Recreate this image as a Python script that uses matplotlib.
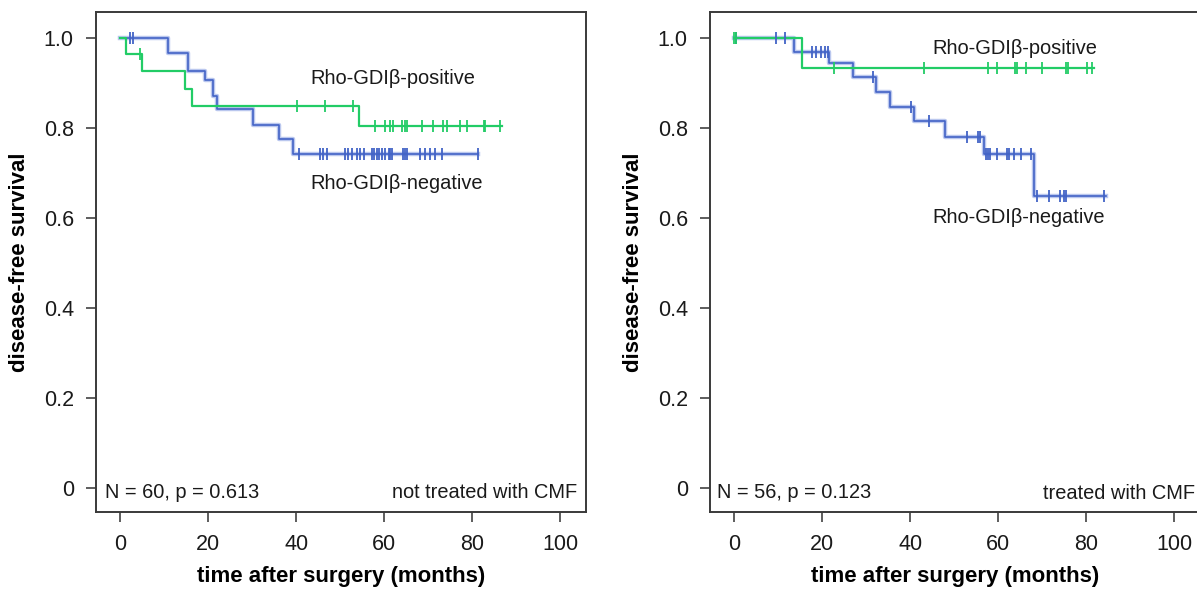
import numpy as np
import matplotlib
matplotlib.use("Agg")
import matplotlib.pyplot as plt

plt.rcParams["font.family"] = ["Liberation Sans", "DejaVu Sans"]

# Kaplan-Meier step data (time in months, survival)
left_pos_times = [0, 1.4, 5.0, 14.8, 16.3, 54.2]
left_pos_surv = [1.0, 0.964, 0.927, 0.888, 0.849, 0.804]
left_pos_end = 86.7
left_pos_cens = [4.6, 40.3, 46.6, 53.0, 57.9, 60.2, 61.4, 62.0, 64.1, 64.8, 65.3,
                 68.6, 71.2, 73.5, 74.3, 77.3, 78.8, 82.6, 83.0, 86.4]

left_neg_times = [0, 10.8, 15.4, 19.3, 21.1, 22.0, 30.2, 36.0, 39.4]
left_neg_surv = [1.0, 0.967, 0.927, 0.907, 0.872, 0.842, 0.807, 0.775, 0.742]
left_neg_end = 81.4
left_neg_cens = [2.3, 3.0, 40.7, 45.5, 46.2, 47.1, 51.1, 51.9, 52.7, 53.8, 54.5, 55.5,
                 57.2, 57.7, 58.3, 58.9, 59.5, 60.2, 61.0, 61.4, 61.7, 64.4, 64.8,
                 65.2, 68.2, 69.3, 70.5, 71.6, 73.1, 81.4]

right_pos_times = [0, 15.5]
right_pos_surv = [1.0, 0.933]
right_pos_end = 81.8
right_pos_cens = [0.0, 0.3, 22.7, 43.2, 57.6, 59.7, 63.9, 64.4, 66.4, 69.9, 75.4,
                  75.8, 80.3, 81.4]

right_neg_times = [0, 13.6, 21.6, 26.9, 32.2, 35.4, 40.9, 47.9, 56.8, 68.2]
right_neg_surv = [1.0, 0.970, 0.944, 0.914, 0.881, 0.847, 0.816, 0.781, 0.742, 0.650]
right_neg_end = 84.5
right_neg_cens = [0.3, 9.5, 11.6, 17.8, 18.7, 19.7, 20.7, 21.4, 31.6, 40.2, 44.3,
                  52.9, 55.5, 55.9, 57.2, 57.6, 58.1, 59.7, 62.1, 62.5, 63.6, 65.2,
                  67.5, 68.9, 71.6, 74.1, 75.0, 75.4, 84.1]

y_ticks = [0, 0.2, 0.4, 0.6, 0.8, 1.0]
y_ticklabels = ["0", "0.2", "0.4", "0.6", "0.8", "1.0"]
x_ticks = [0, 20, 40, 60, 80, 100]

GREEN = "#22cc66"
BLUE = "#4263c6"
BLUE_HALO = "#a9b9ea"


def km(ax, times, surv, end, cens, color, halo=None, lw=1.2):
    t = list(times) + [end]
    s = list(surv) + [surv[-1]]
    if halo:
        ax.step(t, s, where="post", color=halo, lw=3.2, alpha=0.8, zorder=2)
    ax.step(t, s, where="post", color=color, lw=lw, zorder=3)
    idx = np.searchsorted(times, cens, side="right") - 1
    cy = np.array(surv)[idx]
    ax.plot(cens, cy, ls="none", marker="|", ms=9, mew=1.3, color=color, zorder=4)


fig = plt.figure(figsize=(11.97, 5.90), dpi=100)
ax1 = fig.add_axes([96 / 1197, 78 / 590, 490 / 1197, 500 / 590])
ax2 = fig.add_axes([710 / 1197, 78 / 590, 490 / 1197, 500 / 590])

km(ax1, left_neg_times, left_neg_surv, left_neg_end, left_neg_cens, BLUE, BLUE_HALO)
km(ax1, left_pos_times, left_pos_surv, left_pos_end, left_pos_cens, GREEN, lw=1.6)
km(ax2, right_neg_times, right_neg_surv, right_neg_end, right_neg_cens, BLUE, BLUE_HALO)
km(ax2, right_pos_times, right_pos_surv, right_pos_end, right_pos_cens, GREEN, lw=1.6)

for ax in (ax1, ax2):
    ax.set_xlim(-5.5, 105.9)
    ax.set_ylim(-0.053, 1.058)
    ax.set_xticks(x_ticks)
    ax.set_yticks(y_ticks)
    ax.set_yticklabels(y_ticklabels)
    ax.tick_params(direction="out", length=7, width=1.3, color="#505050",
                   labelsize=15.5, pad=9, labelcolor="#1a1a1a")
    for sp in ax.spines.values():
        sp.set_color("#3a3a3a")
        sp.set_linewidth(1.4)
    ax.set_xlabel("time after surgery (months)", fontsize=16, fontweight="bold", labelpad=8)
    ax.set_ylabel("disease-free survival", fontsize=16, fontweight="bold", labelpad=10)

txt = dict(fontsize=14.4, color="#1a1a1a", va="center")
ax1.text(43.2, 0.911, "Rho-GDIβ-positive", **txt)
ax1.text(43.2, 0.676, "Rho-GDIβ-negative", **txt)
ax1.text(-3.4, -0.01, "N = 60, p = 0.613", **txt)
ax1.text(103.8, -0.01, "not treated with CMF", ha="right", **txt)

ax2.text(45.0, 0.978, "Rho-GDIβ-positive", **txt)
ax2.text(45.0, 0.602, "Rho-GDIβ-negative", **txt)
ax2.text(-4.0, -0.01, "N = 56, p = 0.123", **txt)
ax2.text(104.7, -0.013, "treated with CMF", ha="right", **txt)

fig.savefig("out.png", dpi=100)
